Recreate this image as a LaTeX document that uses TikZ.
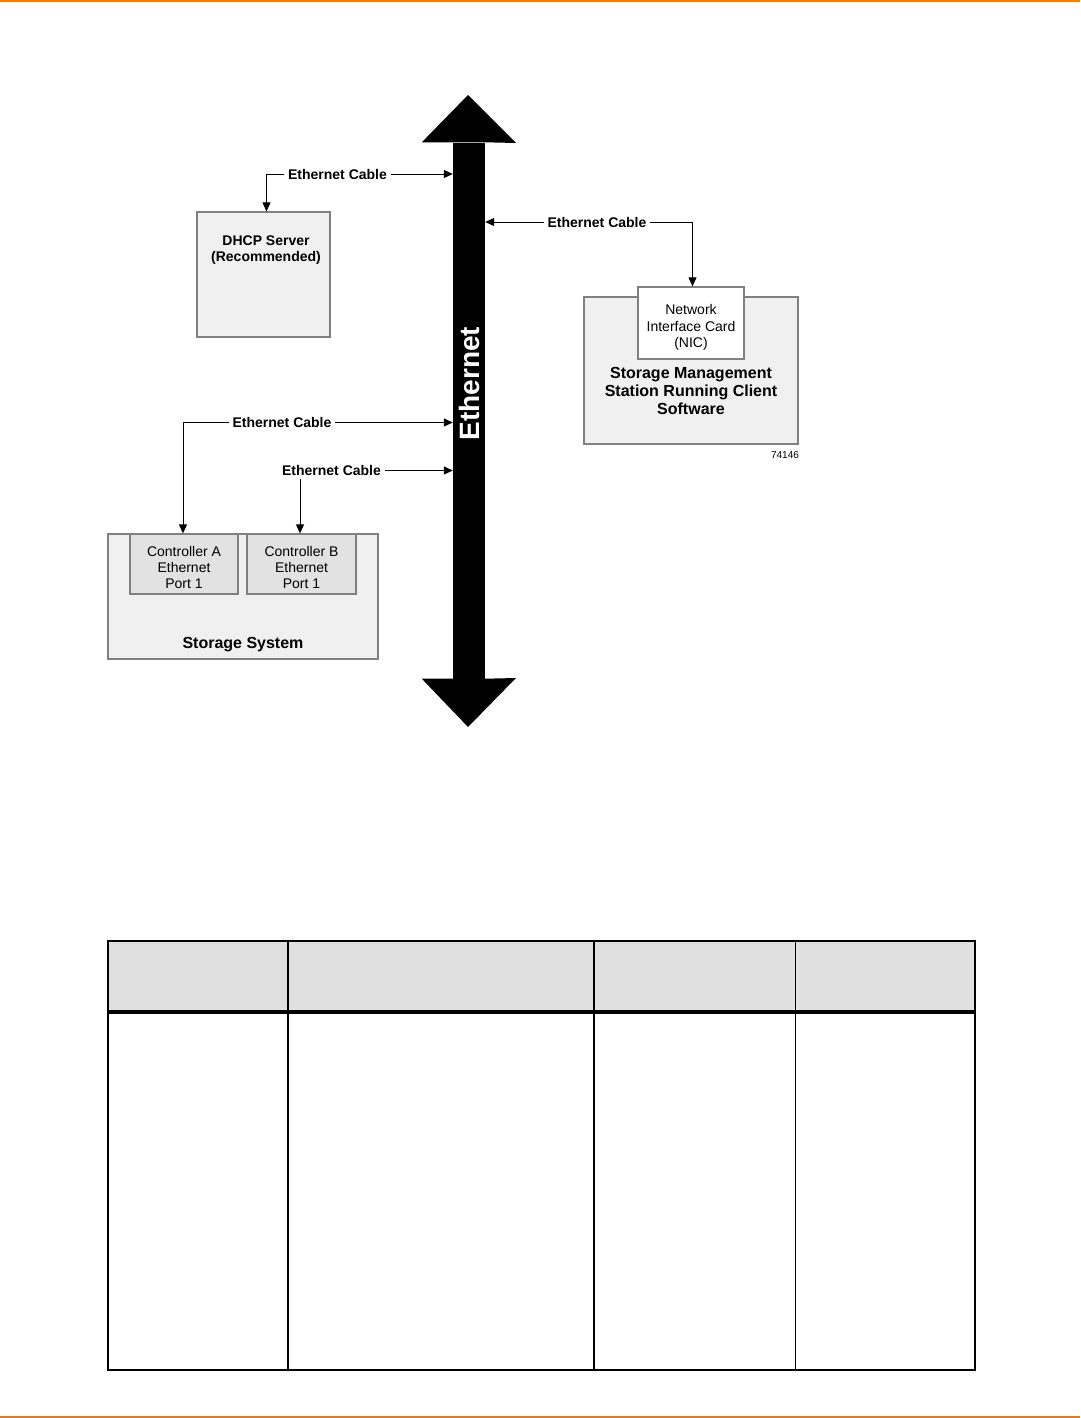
\documentclass[tikz,border=0pt]{standalone}
\usepackage{fontspec}
\setmainfont{Liberation Sans}
\usetikzlibrary{arrows.meta,calc}
\definecolor{boxfill}{HTML}{F0F0F0}
\definecolor{ctrlfill}{HTML}{E2E2E2}
\definecolor{boxdraw}{HTML}{808080}
\definecolor{hdrfill}{HTML}{E0E0E0}
\definecolor{toporange}{HTML}{F08000}
\definecolor{botorange}{HTML}{D6801F}
\begin{document}
\begin{tikzpicture}[x=1pt,y=-1pt,
  cable/.style={draw=black,line width=1pt,-{Triangle[length=9pt,width=8pt]}},
  lbl/.style={font=\fontsize{14}{16}\selectfont\bfseries,inner sep=3.5pt},
  graybox/.style={draw=boxdraw,line width=1.3pt,fill=boxfill,inner sep=0pt},
  ctrlbox/.style={draw=boxdraw,line width=1.3pt,fill=ctrlfill,inner sep=0pt},
  ctrltxt/.style={align=center,font=\fontsize{14}{16}\selectfont},
  bigtxt/.style={font=\fontsize{16}{18}\selectfont\bfseries,align=center},
  tline/.style={draw=black,line width=2pt}]
\useasboundingbox (0,0) rectangle (1080,1418);
\fill[white] (0,0) rectangle (1080,1418);
% orange rules
\fill[toporange] (0,0) rectangle (1080,2.2);
\fill[botorange] (0,1415.6) rectangle (1080,1418);

% Ethernet bus
\node[fill=black,inner sep=0pt,minimum width=32pt,minimum height=536pt] (bus) at (469,410.5) {};
\fill[black] (bus.north west) -- ++(-31,0) -- (468,95) -- (516,143) -- (bus.north east) -- cycle;
\fill[black] (bus.south west) -- ++(-31,0) -- (468,727) -- (516,678) -- (bus.south east) -- cycle;
\node[rotate=90,text=white,font=\fontsize{28}{30}\selectfont\bfseries,inner sep=0pt] (ethtxt) at (469,383.5) {Ethernet};

% DHCP server
\node[graybox,minimum width=133pt,minimum height=125pt] (dhcp) at (263.5,274.5) {};
\node[font=\fontsize{14}{16}\selectfont\bfseries,align=center] (dhcptxt) at (266,250) {DHCP Server\\(Recommended)};
\node[lbl] (lbl1) at (337.5,174) {Ethernet Cable};
\draw[cable] (lbl1.east) -- (lbl1.east -| bus.west);
\draw[cable] (lbl1.west) -| ($(dhcp.north)+(3,0)$);

% Storage management station
\node[graybox,minimum width=214pt,minimum height=147pt] (station) at (691,370.5) {};
\node[draw=boxdraw,line width=1.3pt,fill=white,inner sep=0pt,minimum width=106pt,minimum height=72pt] (nic) at (691,323) {};
\node[font=\fontsize{14}{16.5}\selectfont,align=center] (nictxt) at (691,327.5) {Network\\Interface Card\\(NIC)};
\node[bigtxt] (stationtxt) at (691,391) {Storage Management\\Station Running Client\\Software};
\node[font=\fontsize{10}{12}\selectfont,inner sep=0pt] (fignum) at (785,455.5) {74146};
\node[lbl] (lbl2) at (597,222) {Ethernet Cable};
\draw[cable] (lbl2.west) -- (lbl2.west -| bus.east);
\draw[cable] (lbl2.east) -| ($(nic.north)+(1.5,0)$);

% Storage system
\node[graybox,minimum width=270pt,minimum height=125pt] (storage) at (243,596.5) {};
\node[ctrlbox,minimum width=108pt,minimum height=60pt] (ctrlA) at (184,564) {};
\node[ctrlbox,minimum width=109pt,minimum height=60pt] (ctrlB) at (301.5,564) {};
\node[ctrltxt] (ctrlAtxt) at (184,567) {Controller A\\Ethernet\\Port 1};
\node[ctrltxt] (ctrlBtxt) at (301.5,567) {Controller B\\Ethernet\\Port 1};
\node[bigtxt] (storagetxt) at (243,644.5) {Storage System};
\node[lbl] (lbl3) at (282,422.5) {Ethernet Cable};
\draw[cable] (lbl3.east) -- (lbl3.east -| bus.west);
\draw[cable] (lbl3.west) -| ($(ctrlA.north)+(-1,0)$);
\node[lbl] (lbl4) at (331.5,470.5) {Ethernet Cable};
\draw[cable] (lbl4.east) -- (lbl4.east -| bus.west);
\draw[cable] ($(ctrlB.north |- lbl4.south)+(-1.5,0)$) -- ($(ctrlB.north)+(-1.5,0)$);

% Table
\fill[hdrfill] (108,941) rectangle (975,1011);
\draw[tline] (108,941) rectangle (975,1370);
\draw[black,line width=4pt] (108,1012) -- (975,1012);
\draw[tline] (288,941) -- (288,1370);
\draw[tline] (594,941) -- (594,1370);
\draw[black,line width=1pt] (795,941) -- (795,1370);
\end{tikzpicture}
\end{document}
